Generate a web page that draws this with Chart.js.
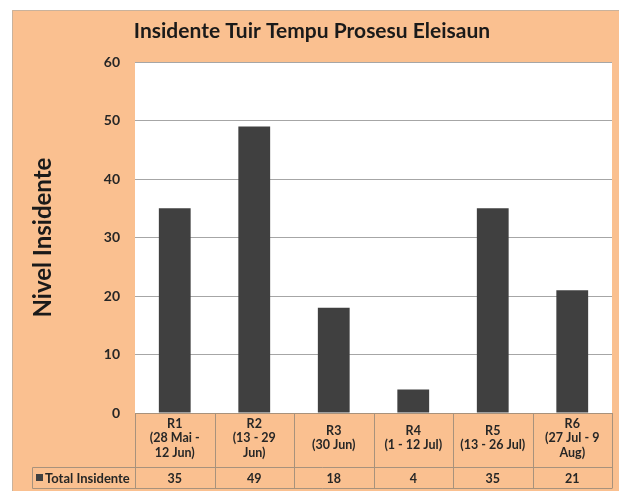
<!DOCTYPE html>
<html lang="en">
<head>
    <meta charset="UTF-8">
    <title>Insidente Tuir Tempu Prosesu Eleisaun</title>
    <script src="https://cdn.jsdelivr.net/npm/chart.js"></script>
    <style>
        html, body { margin: 0; padding: 0; background: #ffffff; }
        #wrap { width: 619px; height: 493px; }
    </style>
</head>
<body>
    <div id="wrap"><canvas id="myChart"></canvas></div>

    <script>
        const categories = [
            ['R1', '(28 Mai -', '12 Jun)'],
            ['R2', '(13 - 29', 'Jun)'],
            ['R3', '(30 Jun)'],
            ['R4', '(1 - 12 Jul)'],
            ['R5', '(13 - 26 Jul)'],
            ['R6', '(27 Jul - 9', 'Aug)']
        ];
        const totalInsidente = [35, 49, 18, 4, 35, 21];
        const seriesName = 'Total Insidente';
        const yTicks = [0, 10, 20, 30, 40, 50, 60];

        const peach = '#FAC090';
        const barColor = '#404040';
        const lineColor = '#A8927C';
        const fontFamily = 'Lato, "Open Sans", sans-serif';

        // fundu laranja + area grafiku mutin
        const backgroundPlugin = {
            id: 'background',
            beforeDraw(chart) {
                const ctx = chart.ctx;
                const a = chart.chartArea;
                ctx.save();
                ctx.fillStyle = peach;
                ctx.fillRect(12, 10, 607, 481);
                ctx.strokeStyle = '#C9B29C';
                ctx.lineWidth = 1;
                ctx.beginPath();
                ctx.moveTo(12.5, 491);
                ctx.lineTo(12.5, 10.5);
                ctx.lineTo(619, 10.5);
                ctx.stroke();
                ctx.fillStyle = '#ffffff';
                ctx.fillRect(a.left, a.top, a.right - a.left, a.bottom - a.top);
                ctx.restore();
            }
        };

        // tabela dadus iha okos
        const dataTablePlugin = {
            id: 'dataTable',
            afterDraw(chart) {
                const ctx = chart.ctx;
                const x = chart.scales.x;
                const a = chart.chartArea;
                const half = (x.getPixelForValue(1) - x.getPixelForValue(0)) / 2;
                const top = a.bottom;
                const mid = 467.5;
                const bottom = 488.5;
                const labelLeft = 32.5;

                ctx.save();
                ctx.strokeStyle = lineColor;
                ctx.lineWidth = 1;
                ctx.beginPath();
                ctx.moveTo(a.left, top + 0.5);
                ctx.lineTo(a.right, top + 0.5);
                ctx.moveTo(labelLeft, mid);
                ctx.lineTo(a.right, mid);
                ctx.moveTo(labelLeft, bottom);
                ctx.lineTo(a.right, bottom);
                ctx.moveTo(labelLeft, mid);
                ctx.lineTo(labelLeft, bottom);
                for (let i = 0; i <= categories.length; i++) {
                    const px = Math.round(x.getPixelForValue(i) - half) + 0.5;
                    ctx.moveTo(px, top);
                    ctx.lineTo(px, bottom);
                }
                ctx.stroke();

                ctx.fillStyle = '#262626';
                ctx.textAlign = 'center';
                ctx.textBaseline = 'middle';
                ctx.font = 'bold 12.5px ' + fontFamily;
                const lh = 14.5;
                categories.forEach((lines, i) => {
                    const cx = x.getPixelForValue(i);
                    const startY = 438 - (lines.length - 1) * lh / 2;
                    lines.forEach((t, j) => ctx.fillText(t, cx, startY + j * lh));
                    ctx.fillText(String(totalInsidente[i]), cx, 478.5);
                });

                // naran serie ho marka
                ctx.fillStyle = barColor;
                ctx.fillRect(36, 474, 7, 7);
                ctx.fillStyle = '#262626';
                ctx.font = 'bold 13px ' + fontFamily;
                ctx.textAlign = 'left';
                ctx.fillText(seriesName, 45, 478.5);
                ctx.restore();
            }
        };

        const ctx = document.getElementById('myChart').getContext('2d');
        new Chart(ctx, {
            type: 'bar',
            data: {
                labels: categories,
                datasets: [{
                    label: seriesName,
                    data: totalInsidente,
                    backgroundColor: barColor,
                    borderWidth: 0,
                    barPercentage: 0.4,
                    categoryPercentage: 1.0
                }]
            },
            options: {
                responsive: true,
                maintainAspectRatio: false,
                animation: false,
                layout: { padding: { left: 12, top: 10, right: 7, bottom: 0 } },
                plugins: {
                    legend: { display: false },
                    tooltip: { enabled: false },
                    title: {
                        display: true,
                        text: 'Insidente Tuir Tempu Prosesu Eleisaun',
                        color: '#1a1a1a',
                        font: { family: fontFamily, size: 21, weight: 'bold' },
                        padding: { top: 9, bottom: 18 }
                    }
                },
                scales: {
                    x: {
                        ticks: { display: false },
                        grid: { display: false },
                        border: { display: false },
                        afterFit(scale) { scale.height = 80; }
                    },
                    y: {
                        min: 0,
                        max: 60,
                        afterBuildTicks(scale) {
                            scale.ticks = yTicks.map(v => ({ value: v }));
                        },
                        ticks: {
                            padding: 15,
                            color: '#262626',
                            font: { family: fontFamily, size: 14, weight: 'bold' }
                        },
                        grid: { color: '#A6A6A6', drawTicks: false },
                        border: { display: false },
                        title: {
                            display: true,
                            text: 'Nivel Insidente',
                            color: '#1a1a1a',
                            font: { family: fontFamily, size: 24, weight: 'bold' },
                            padding: { top: 17, bottom: 0 }
                        },
                        afterFit(scale) { scale.width = 123; }
                    }
                }
            },
            plugins: [backgroundPlugin, dataTablePlugin]
        });
    </script>
</body>
</html>
